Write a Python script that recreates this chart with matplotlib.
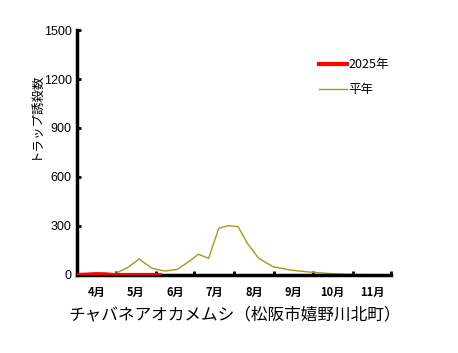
import matplotlib
matplotlib.use("Agg")
import matplotlib.pyplot as plt

plt.rcParams['font.family'] = ['Noto Sans CJK JP', 'DejaVu Sans']

# 4月1日からの日数
heinen_days = [0, 10, 17, 28, 39, 48, 58, 68, 78, 88, 94, 102, 110, 117, 125, 132,
               141, 152, 166, 183, 196, 210, 225, 244]
heinen_vals = [3, 8, 8, 3, 45, 98, 41, 24, 35, 90, 127, 102, 286, 302, 296, 196,
               102, 51, 30, 16, 9, 4, 2, 1]

y2025_days = [0, 7, 14, 21, 28, 35, 42, 49, 56, 64]
y2025_vals = [0, 2, 5, 4, 0, 0, 0, 0, 0, 0]

month_start = [0, 30, 61, 91, 122, 153, 183, 214, 244]
month_labels = ['4月', '5月', '6月', '7月', '8月', '9月', '10月', '11月']
yticks = [0, 300, 600, 900, 1200, 1500]

fig = plt.figure(figsize=(4.58, 3.53), dpi=100)
ax = fig.add_axes([0.169, 0.221, 0.685, 0.694])

ax.plot(y2025_days, y2025_vals, color='#ff0000', lw=3, label='2025年', zorder=3)
ax.plot(heinen_days, heinen_vals, color='#a09a20', lw=1, label='平年', zorder=2)

ax.set_xlim(0, 244)
ax.set_ylim(0, 1500)
ax.set_yticks(yticks)
ax.set_yticklabels([str(v) for v in yticks], family='Liberation Sans', fontsize=9)
ax.set_xticks(month_start)
ax.set_xticklabels([])
mids = [(month_start[i] + month_start[i + 1]) / 2 for i in range(len(month_labels))]
ax.set_xticks(mids, minor=True)
ax.set_xticklabels(month_labels, minor=True, fontsize=8, fontweight='bold')
ax.tick_params(axis='x', which='minor', length=0, pad=8)
ax.tick_params(axis='x', which='major', direction='in', length=3, width=2)
ax.tick_params(axis='y', direction='in', length=3, width=2, pad=4)

for s in ['top', 'right']:
    ax.spines[s].set_visible(False)
for s in ['left', 'bottom']:
    ax.spines[s].set_linewidth(2.5)

ax.set_xlabel('チャバネアオカメムシ（松阪市嬉野川北町）', fontsize=12, labelpad=5)
fig.text(35 / 458, 1 - 115 / 353, 'トラップ誘殺数', rotation=90, ha='center',
         va='center', fontsize=9)

ax.legend(loc='upper left', bbox_to_anchor=(0.735, 0.93), frameon=False, fontsize=9,
          handlelength=2.2, handletextpad=0.15, labelspacing=0.95)

fig.savefig('out.png', dpi=100)
